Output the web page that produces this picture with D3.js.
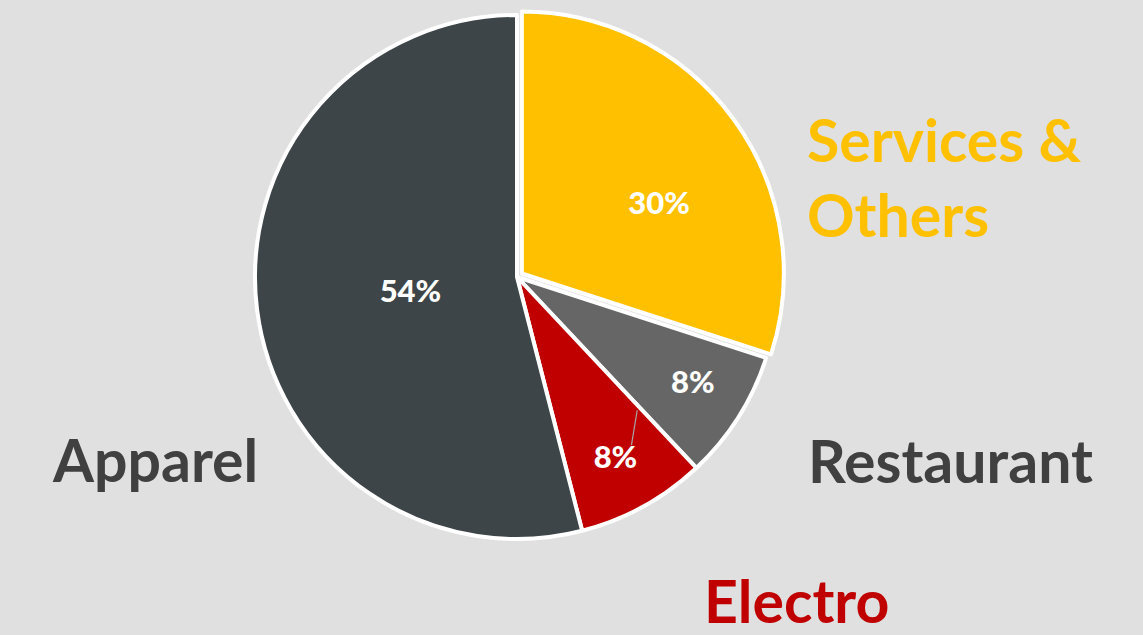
<!DOCTYPE html>
<html><head><meta charset="utf-8">
<script src="https://cdn.jsdelivr.net/npm/d3@7"></script>
<style>html,body{margin:0;padding:0;background:#E0E0E0;}svg{display:block;}</style>
</head><body>
<svg id="chart" width="1143" height="635"></svg>
<script>
const categories = ["Services & Others", "Restaurant", "Electro", "Apparel"];
const values = [30, 8, 8, 54];
const colors = ["#FFC000", "#666666", "#C00000", "#3D4548"];
const labelColors = ["#FFC000", "#404040", "#C00000", "#404040"];

const W = 1143, H = 635;
const cx = 517, cy = 277, R = 262;
const svg = d3.select("#chart");
svg.append("rect").attr("width", W).attr("height", H).attr("fill", "#E0E0E0");

const pie = d3.pie().sort(null).value(d => d)(values);
const arc = d3.arc().innerRadius(0).outerRadius(R);
const explode = [6, 0, 0, 0];
// value label placement: radius fraction + angular shift (radians)
const lblR = [0.59, 0.78, 0.78, 0.41];
const lblShift = [0.15, -0.03, 0, 0];

const g = svg.append("g").attr("transform", `translate(${cx},${cy})`);
const off = (d, i) => {
  const a = (d.startAngle + d.endAngle) / 2;
  return [explode[i] * Math.sin(a), -explode[i] * Math.cos(a)];
};
g.selectAll("path.slice").data(pie).join("path")
  .attr("class", "slice")
  .attr("d", arc)
  .attr("transform", (d, i) => `translate(${off(d, i)})`)
  .attr("fill", (d, i) => colors[i])
  .attr("stroke", "#FFFFFF").attr("stroke-width", 4).attr("stroke-linejoin", "round");

const pos = (d, i) => {
  const a = (d.startAngle + d.endAngle) / 2 + lblShift[i];
  const o = off(d, i);
  return [o[0] + lblR[i] * R * Math.sin(a), o[1] - lblR[i] * R * Math.cos(a)];
};

// leader line for Electro label
{
  const d = pie[2];
  const a0 = d.startAngle + 0.02, r0 = 0.685 * R;
  const p = pos(d, 2);
  g.append("line")
    .attr("x1", r0 * Math.sin(a0)).attr("y1", -r0 * Math.cos(a0))
    .attr("x2", p[0] + 16).attr("y2", p[1] - 11)
    .attr("stroke", "#A6A6A6").attr("stroke-width", 1.2);
}

g.selectAll("text.val").data(pie).join("text")
  .attr("class", "val")
  .attr("x", (d, i) => pos(d, i)[0])
  .attr("y", (d, i) => pos(d, i)[1])
  .attr("text-anchor", "middle").attr("dominant-baseline", "central")
  .attr("fill", "#FFFFFF")
  .attr("font-family", "Lato, 'Open Sans', sans-serif").attr("font-weight", 900)
  .attr("font-size", 31)
  .text(d => d.value + "%");

// category labels
const catPos = [[807, 162], [808, 483], [704, 623], [53, 482]];
const catLines = [["Services &", "Others"], ["Restaurant"], ["Electro"], ["Apparel"]];
categories.forEach((c, i) => {
  const t = svg.append("text")
    .attr("x", catPos[i][0]).attr("y", catPos[i][1])
    .attr("fill", labelColors[i])
    .attr("font-family", "Lato, 'Open Sans', sans-serif").attr("font-weight", "bold")
    .attr("font-size", 59);
  catLines[i].forEach((ln, j) => {
    t.append("tspan").attr("x", catPos[i][0]).attr("dy", j === 0 ? 0 : 75).text(ln);
  });
});
</script>
</body></html>
